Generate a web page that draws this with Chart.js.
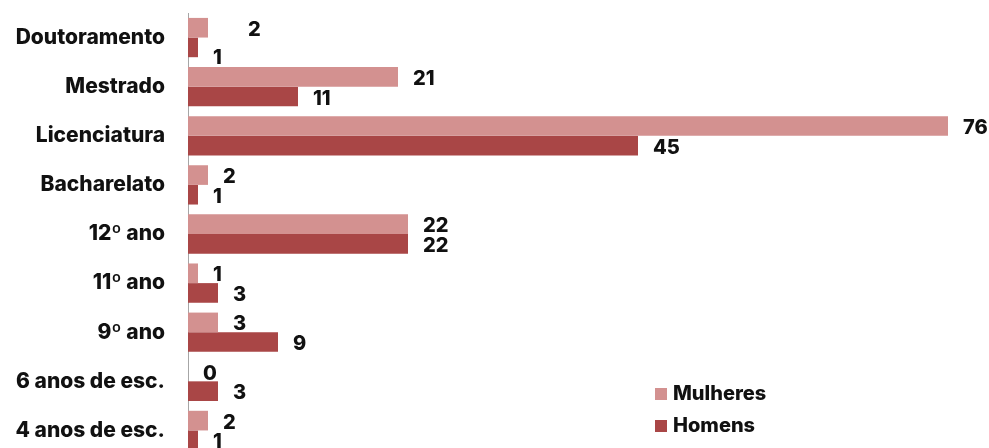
<!DOCTYPE html>
<html>
<head>
<meta charset="utf-8">
<script src="https://cdn.jsdelivr.net/npm/chart.js@4.4.1/dist/chart.umd.min.js"></script>
<style>
  html, body { margin: 0; padding: 0; background: #fff; overflow: hidden; }
  #wrap { position: relative; width: 989px; height: 455px; }
</style>
</head>
<body>
<div id="wrap"><canvas id="chart"></canvas></div>
<script>
"use strict";
const CATEGORIES = ["Doutoramento", "Mestrado", "Licenciatura", "Bacharelato", "12º ano", "11º ano", "9º ano", "6 anos de esc.", "4 anos de esc."];
const MULHERES = [2, 21, 76, 2, 22, 1, 3, 0, 2];
const HOMENS   = [1, 11, 45, 1, 22, 3, 9, 3, 1];

const COLORS = { mulheres: "#d39190", homens: "#a94646", text: "#111111", axis: "#a6a6a6" };
const FONT = "Inter";

// value labels to the right of each bar
const barLabels = {
  id: "barLabels",
  afterDatasetsDraw(chart, args, opts) {
    const ctx = chart.ctx;
    ctx.save();
    ctx.font = "800 20px " + FONT;
    ctx.fillStyle = COLORS.text;
    ctx.textBaseline = "middle";
    ctx.textAlign = "left";
    chart.data.datasets.forEach((ds, di) => {
      chart.getDatasetMeta(di).data.forEach((bar, i) => {
        const n = (opts.nudge || {})[di + "-" + i] || [0, 0];
        ctx.fillText(String(ds.data[i]), bar.x + 15 + n[0], bar.y + 2 + n[1]);
      });
    });
    ctx.restore();
  },
};

// small legend in the lower right
const boxLegend = {
  id: "boxLegend",
  afterDraw(chart) {
    const ctx = chart.ctx;
    ctx.save();
    ctx.font = "800 20px " + FONT;
    ctx.textBaseline = "middle";
    chart.data.datasets.forEach((ds, di) => {
      const y = 394 + di * 32;
      ctx.fillStyle = ds.backgroundColor;
      ctx.fillRect(655, y - 6, 12, 12);
      ctx.fillStyle = COLORS.text;
      ctx.fillText(ds.label, 673, y);
    });
    ctx.restore();
  },
};

new Chart(document.getElementById("chart"), {
  type: "bar",
  data: {
    labels: CATEGORIES,
    datasets: [
      { label: "Mulheres", data: MULHERES, backgroundColor: COLORS.mulheres, barPercentage: 1, categoryPercentage: 0.8 },
      { label: "Homens",   data: HOMENS,   backgroundColor: COLORS.homens,   barPercentage: 1, categoryPercentage: 0.8 },
    ],
  },
  options: {
    indexAxis: "y",
    responsive: true,
    maintainAspectRatio: false,
    animation: false,
    layout: { padding: { top: 13, right: 1, bottom: 0, left: 0 } },
    plugins: {
      legend: { display: false },
      tooltip: { enabled: false },
      barLabels: { nudge: { "0-0": [25, 0], "1-0": [0, 9] } },
    },
    scales: {
      x: { display: false, min: 0, max: 80 },
      y: {
        grid: { display: false, drawTicks: false },
        border: { display: true, color: COLORS.axis, width: 1 },
        ticks: { color: COLORS.text, padding: 23, font: { family: FONT, size: 21, weight: "800" } },
        afterFit: (scale) => { scale.width = 188; scale.paddingTop = 0; scale.paddingBottom = 0; },
      },
    },
  },
  plugins: [barLabels, boxLegend],
});
</script>
</body>
</html>
